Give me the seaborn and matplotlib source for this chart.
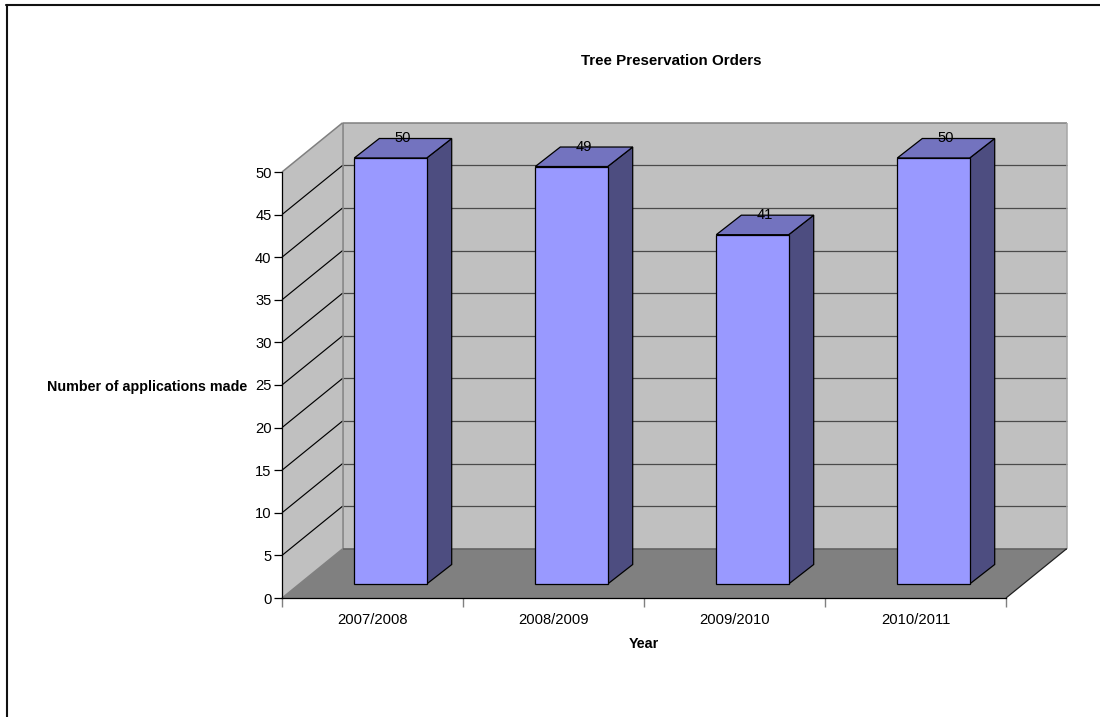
import matplotlib
matplotlib.use("Agg")
import matplotlib.pyplot as plt
from matplotlib.lines import Line2D
from matplotlib.patches import Polygon
import pandas as pd
import seaborn as sns

years = ["2007/2008", "2008/2009", "2009/2010", "2010/2011"]
applications = [50, 49, 41, 50]
y_ticks = [0, 5, 10, 15, 20, 25, 30, 35, 40, 45, 50]

title = "Tree Preservation Orders"
x_title = "Year"
y_title = "Number of applications made"

sns.set_theme(style="white")
plt.rcParams["font.family"] = ["Liberation Sans", "DejaVu Sans"]

W, H = 1100, 717
fig = plt.figure(figsize=(W / 100, H / 100), dpi=100, facecolor="white")


def rect(left, right, top, bottom):
    return [left / W, 1 - bottom / H, (right - left) / W, (bottom - top) / H]


ax = fig.add_axes(rect(282, 1006, 172, 598))
ax.set_xlim(-0.5, 3.5)
ax.set_ylim(0, 50)
ax.patch.set_visible(False)

DX = 60.7 / 181.0   # depth of the box in category units
DY = 49.3 / 8.52    # depth of the box in value units


def box(x, v, d=0.0):
    return (x + d * DX, v + d * DY)


def poly(a, pts, fc, z, ec="none", lw=0):
    a.add_patch(Polygon(pts, closed=True, facecolor=fc, edgecolor=ec, linewidth=lw,
                        clip_on=False, zorder=z))


def seg(a, p, q, color, lw, z):
    a.add_line(Line2D([p[0], q[0]], [p[1], q[1]], color=color, linewidth=lw,
                      clip_on=False, zorder=z, solid_capstyle="butt"))


x0, x1 = ax.get_xlim()
top = max(y_ticks)
WALL, FLOOR, EDGE = "#C0C0C0", "#808080", "#808080"

poly(ax, [box(x0, 0, 1), box(x1, 0, 1), box(x1, top, 1), box(x0, top, 1)], WALL, 1)
poly(ax, [box(x0, 0), box(x0, 0, 1), box(x0, top, 1), box(x0, top)], WALL, 1)
poly(ax, [box(x0, 0), box(x1, 0), box(x1, 0, 1), box(x0, 0, 1)], FLOOR, 1.5)

for v in y_ticks[1:-1]:
    seg(ax, box(x0, v), box(x0, v, 1), "black", 0.85, 2)
    seg(ax, box(x0, v, 1), box(x1, v, 1), "#4A4A4A", 0.9, 2)

seg(ax, box(x0, top), box(x0, top, 1), EDGE, 1.1, 2)
seg(ax, box(x0, top, 1), box(x1, top, 1), EDGE, 1.1, 2)
seg(ax, box(x0, 0, 1), box(x0, top, 1), EDGE, 1.1, 2)
seg(ax, box(x1, 0, 1), box(x1, top, 1), "#A6A6A6", 1.1, 2)
seg(ax, box(x0, 0, 1), box(x1, 0, 1), "#606060", 1.1, 2)
seg(ax, box(x0, 0), box(x0, 0, 1), EDGE, 1.0, 2)
seg(ax, box(x1, 0), box(x1, 0, 1), "#202020", 0.9, 2)

for s in ("top", "right"):
    ax.spines[s].set_visible(False)
for s in ("left", "bottom"):
    ax.spines[s].set_color("black")
    ax.spines[s].set_linewidth(0.9)
    ax.spines[s].set_zorder(3)

ax.set_yticks(y_ticks)
ax.set_xticks([x0, 0.5, 1.5, 2.5, x1])
ax.set_xticklabels([])
ax.tick_params(axis="y", length=6, width=0.9, color="black", left=True, pad=1.5,
               labelsize=10.6, labelcolor="black")
ax.tick_params(axis="x", length=6.5, width=1.0, color="#808080", bottom=True)
ax.set_xlabel("")
ax.set_ylabel("")
for i, label in enumerate(years):
    ax.annotate(label, xy=(i, 0), xycoords="data", xytext=(0, -22.5 * 0.72), textcoords="offset points",
                ha="center", va="center", fontsize=10.6, color="black", annotation_clip=False)

# Bars stand inside the box, on a plane slightly behind the front edge.
ax_bar = fig.add_axes(rect(300, 1024, 158, 584), sharex=None)
ax_bar.patch.set_visible(False)
df = pd.DataFrame({"year": years, "applications": applications})
sns.barplot(data=df, x="year", y="applications", ax=ax_bar, color="#9999FF", saturation=1,
            width=0.4, edgecolor="black", linewidth=0.9, zorder=5)
ax_bar.set_xlim(-0.5, 3.5)
ax_bar.set_ylim(0, 50)
ax_bar.axis("off")

BDX = 25.0 / 181.0
BDY = 19.5 / 8.52
for bar, value in zip(ax_bar.patches, applications):
    bar.set_clip_on(False)
    left, right = bar.get_x(), bar.get_x() + bar.get_width()
    h = bar.get_height()
    poly(ax_bar, [(right, 0), (right + BDX, BDY), (right + BDX, h + BDY), (right, h)],
         "#4D4D80", 4, "black", 0.9)
    poly(ax_bar, [(left, h), (right, h), (right + BDX, h + BDY), (left + BDX, h + BDY)],
         "#7373BF", 4, "black", 0.9)
    ax_bar.text((left + right) / 2 + BDX / 2, h + BDY, str(value), ha="center", va="center",
                fontsize=10.6, color="black", zorder=8, clip_on=False)

fig.text(671 / W, 1 - 61 / H, title, ha="center", va="center", fontsize=10.9,
         fontweight="bold", color="black")
fig.text(644 / W, 1 - 643.5 / H, x_title, ha="center", va="center", fontsize=10.3,
         fontweight="bold", color="black")
fig.text(247 / W, 1 - 387 / H, y_title, ha="right", va="center", fontsize=10.3,
         fontweight="bold", color="black")

fig.add_artist(Line2D([7 / W, 7 / W], [0, 1 - 5 / H], color="#111111", linewidth=1.5))
fig.add_artist(Line2D([6 / W, 1], [1 - 5 / H, 1 - 5 / H], color="#111111", linewidth=1.5))

fig.savefig("out.png", dpi=100, facecolor="white")
